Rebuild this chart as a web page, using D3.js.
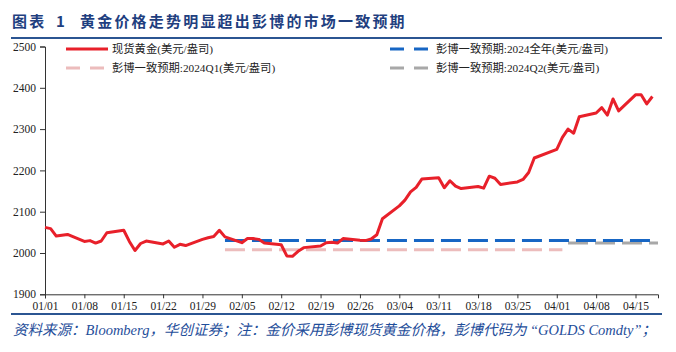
<!DOCTYPE html>
<html>
<head>
<meta charset="utf-8">
<script src="https://cdn.jsdelivr.net/npm/d3@7"></script>
<style>
  body { margin: 0; background: #fff; }
  svg text { font-family: "Liberation Serif", "Noto Sans CJK SC", serif; }
</style>
</head>
<body>
<div id="chart"></div>
<script>
// spot gold, trading days
var goldDates = ["2024-01-01","2024-01-02","2024-01-03","2024-01-04","2024-01-05",
  "2024-01-08","2024-01-09","2024-01-10","2024-01-11","2024-01-12",
  "2024-01-15","2024-01-16","2024-01-17","2024-01-18","2024-01-19",
  "2024-01-22","2024-01-23","2024-01-24","2024-01-25","2024-01-26",
  "2024-01-29","2024-01-30","2024-01-31","2024-02-01","2024-02-02",
  "2024-02-05","2024-02-06","2024-02-07","2024-02-08","2024-02-09",
  "2024-02-12","2024-02-13","2024-02-14","2024-02-15","2024-02-16",
  "2024-02-19","2024-02-20","2024-02-21","2024-02-22","2024-02-23",
  "2024-02-26","2024-02-27","2024-02-28","2024-02-29","2024-03-01",
  "2024-03-04","2024-03-05","2024-03-06","2024-03-07","2024-03-08",
  "2024-03-11","2024-03-12","2024-03-13","2024-03-14","2024-03-15",
  "2024-03-18","2024-03-19","2024-03-20","2024-03-21","2024-03-22",
  "2024-03-25","2024-03-26","2024-03-27","2024-03-28","2024-04-01",
  "2024-04-02","2024-04-03","2024-04-04","2024-04-05",
  "2024-04-08","2024-04-09","2024-04-10","2024-04-11","2024-04-12",
  "2024-04-15","2024-04-16","2024-04-17","2024-04-18"];
var goldValues = [2062, 2059, 2041, 2043, 2045,
  2028, 2030, 2024, 2029, 2049,
  2055, 2028, 2006, 2023, 2029,
  2022, 2029, 2014, 2021, 2018,
  2033, 2037, 2040, 2055, 2039,
  2025, 2035, 2035, 2033, 2024,
  2020, 1993, 1992, 2004, 2013,
  2017, 2025, 2026, 2024, 2035,
  2031, 2030, 2034, 2044, 2083,
  2114, 2128, 2148, 2159, 2179,
  2182, 2158, 2175, 2162, 2156,
  2161, 2157, 2186, 2181, 2166,
  2172, 2178, 2195, 2230, 2251,
  2280, 2300, 2290, 2330,
  2339, 2352, 2334, 2373, 2344,
  2383, 2383, 2361, 2379];

// Bloomberg consensus: [start, end, value]
var fullYear = ["2024-02-02", "2024-04-18", 2030];
var q1 = ["2024-02-02", "2024-04-02", 2008];
var q2 = ["2024-04-03", "2024-04-19", 2024];

var yTicks = [1900, 2000, 2100, 2200, 2300, 2400, 2500];
var xTickLabels = ["01/01","01/08","01/15","01/22","01/29","02/05","02/12","02/19",
  "02/26","03/04","03/11","03/18","03/25","04/01","04/08","04/15"];

var seriesNames = ["现货黄金(美元/盎司)", "彭博一致预期:2024全年(美元/盎司)",
  "彭博一致预期:2024Q1(美元/盎司)", "彭博一致预期:2024Q2(美元/盎司)"];

var W = 676, H = 352;
var parse = d3.timeParse("%Y-%m-%d");
var fmt = d3.timeFormat("%m/%d");
var navy = "#1f3f7f";

var svg = d3.select("#chart").append("svg")
  .attr("width", W).attr("height", H);

// title
var title = svg.append("text").attr("y", 27)
  .attr("fill", navy).attr("font-weight", "bold").attr("font-size", 15)
  .style("font-family", "'Noto Sans CJK SC', sans-serif")
  .attr("letter-spacing", 2.2);
title.append("tspan").attr("x", 12).text("图表");
title.append("tspan").attr("x", 56).text("1");
title.append("tspan").attr("x", 80).text("黄金价格走势明显超出彭博的市场一致预期");
svg.append("line").attr("x1", 11).attr("x2", 662).attr("y1", 38).attr("y2", 38)
  .attr("stroke", "#2b5592").attr("stroke-width", 2);

// scales
var x = d3.scaleTime()
  .domain([parse("2024-01-01"), parse("2024-04-19")])
  .range([45, 658]);
var y = d3.scaleLinear()
  .domain([1900, 2500])
  .range([294.3, 46.5]);

// axes
var yAxis = svg.append("g").attr("transform", "translate(45,0)")
  .call(d3.axisLeft(y).tickValues(yTicks).tickSize(5).tickPadding(4).tickFormat(d3.format("d")));
var xAxis = svg.append("g").attr("transform", "translate(0,294.3)")
  .call(d3.axisBottom(x)
    .tickValues(xTickLabels.map(function (d) { return parse("2024-" + d.replace("/", "-")); }))
    .tickSize(4).tickPadding(4).tickFormat(fmt));
[yAxis, xAxis].forEach(function (g) {
  g.select(".domain").attr("stroke", "#333");
  g.selectAll(".tick line").attr("stroke", "#333");
  g.selectAll(".tick text").attr("fill", "#222").attr("font-size", 11.5)
    .style("font-family", "'Liberation Serif', serif");
});

// consensus lines
function flat(spec, color, width) {
  var pts = [[parse(spec[0]), spec[2]], [parse(spec[1]), spec[2]]];
  svg.append("path")
    .attr("d", d3.line().x(function (d) { return x(d[0]); }).y(function (d) { return y(d[1]); })(pts))
    .attr("fill", "none").attr("stroke", color).attr("stroke-width", width)
    .attr("stroke-dasharray", "20,7");
}
flat(q1, "#ecbcbc", 3);
flat(q2, "#a8a8a8", 3);
flat(fullYear, "#1766c4", 3);

// gold line
var gold = goldDates.map(function (d, i) { return { date: parse(d), value: goldValues[i] }; });
svg.append("path")
  .datum(gold)
  .attr("d", d3.line().x(function (d) { return x(d.date); }).y(function (d) { return y(d.value); }))
  .attr("fill", "none").attr("stroke", "#e8202a").attr("stroke-width", 3)
  .attr("stroke-linejoin", "round");

// legend
var legend = [
  { name: seriesNames[0], color: "#e8202a", dash: null, x: 66, y: 49 },
  { name: seriesNames[1], color: "#1766c4", dash: "14,10", x: 390, y: 49 },
  { name: seriesNames[2], color: "#ecbcbc", dash: "14,10", x: 66, y: 68 },
  { name: seriesNames[3], color: "#a8a8a8", dash: "14,10", x: 390, y: 68 }
];
var lg = svg.selectAll(".lg").data(legend).enter().append("g").attr("class", "lg");
lg.append("line")
  .attr("x1", function (d) { return d.x; }).attr("x2", function (d) { return d.x + 42; })
  .attr("y1", function (d) { return d.y; }).attr("y2", function (d) { return d.y; })
  .attr("stroke", function (d) { return d.color; }).attr("stroke-width", 3)
  .attr("stroke-dasharray", function (d) { return d.dash; });
lg.append("text")
  .attr("x", function (d) { return d.x + 46; }).attr("y", function (d) { return d.y + 4; })
  .attr("font-size", 11.3).attr("fill", "#222")
  .text(function (d) { return d.name; });

// footer
svg.append("line").attr("x1", 11).attr("x2", 662).attr("y1", 314).attr("y2", 314)
  .attr("stroke", "#2b5592").attr("stroke-width", 2);
svg.append("text").attr("x", 13).attr("y", 335)
  .attr("fill", "#1f4e9a").attr("font-size", 14.5).attr("font-style", "italic")
  .text("资料来源：Bloomberg，华创证券；注：金价采用彭博现货黄金价格，彭博代码为 “GOLDS Comdty”；");
</script>
</body>
</html>
